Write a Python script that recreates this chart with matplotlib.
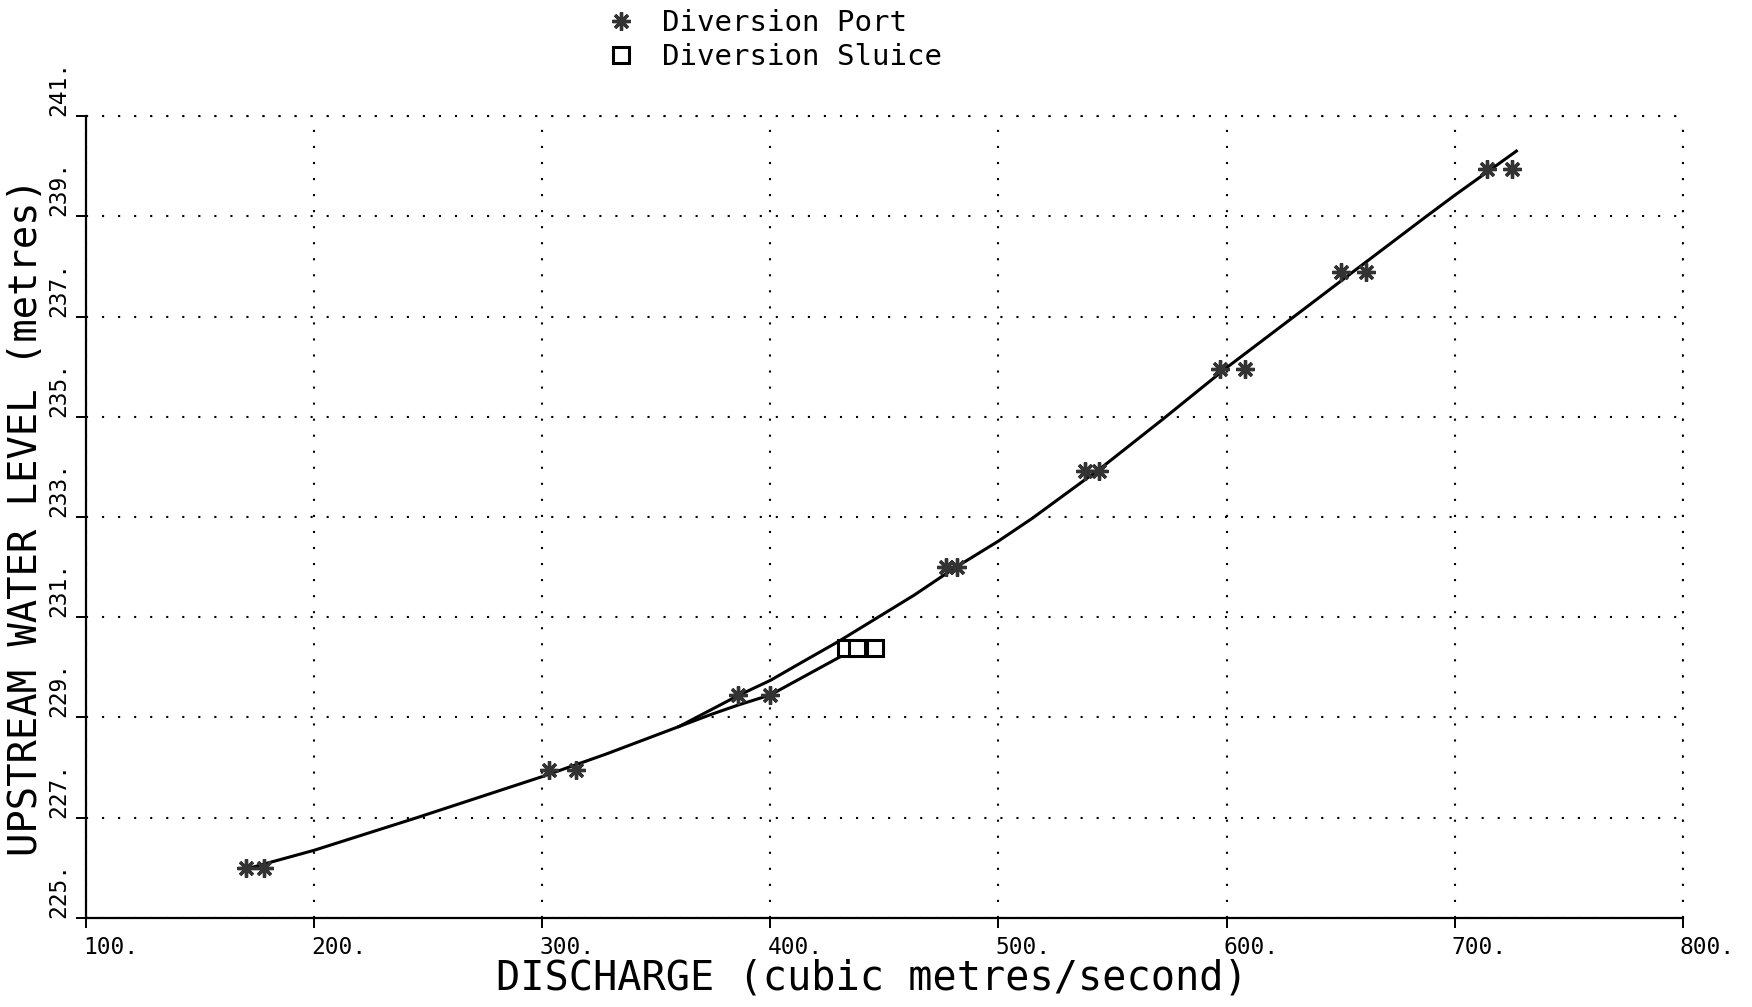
import matplotlib
matplotlib.use("Agg")
import matplotlib.pyplot as plt
from matplotlib.transforms import ScaledTranslation

# Measured points: discharge (m3/s) and upstream water level (m)
port_q = [170, 178, 303, 315, 386, 400, 477, 482, 538, 544, 597, 608, 650, 661, 714, 725]
port_h = [226.0, 226.0, 227.95, 227.95, 229.45, 229.45, 232.0, 232.0,
          233.92, 233.92, 235.96, 235.96, 237.88, 237.88, 239.94, 239.94]
sluice_q = [433, 438, 446]
sluice_h = [230.38, 230.38, 230.38]

# Rating curve for the diversion port
port_curve_q = [172, 200, 245, 300, 328, 360, 386, 400, 413, 430, 463, 480, 500, 515,
                545, 572, 600, 629, 660, 687, 700, 727]
port_curve_h = [226.0, 226.35, 227.0, 227.82, 228.27, 228.82, 229.44, 229.74, 230.08,
                230.52, 231.44, 231.96, 232.52, 232.98, 233.98, 234.95, 235.98, 236.98,
                238.05, 238.98, 239.42, 240.3]
# Branch to the diversion sluice
sluice_curve_q = [360, 374, 386, 400, 433]
sluice_curve_h = [228.82, 229.06, 229.25, 229.45, 230.27]

x_ticks = [100, 200, 300, 400, 500, 600, 700, 800]
y_ticks = [225, 227, 229, 231, 233, 235, 237, 239, 241]
x_tick_labels = ["100.", "200.", "300.", "400.", "500.", "600.", "700.", "800."]
y_tick_labels = ["225.", "227.", "229.", "231.", "233.", "235.", "237.", "239.", "241."]

MONO = "DejaVu Sans Mono"
plt.rcParams["font.family"] = [MONO, "DejaVu Sans"]

fig = plt.figure(figsize=(17.52, 10.07), dpi=100)
ax = fig.add_axes([0.049, 0.0884, 0.9116, 0.7964])

ax.set_xlim(100, 800)
ax.set_ylim(225, 241)

dot = (0, (1, 6.7))
ax.set_xticks(x_ticks)
ax.set_yticks(y_ticks)
ax.grid(True, color="black", linestyle=dot, linewidth=1.5)
ax.axhline(241, color="black", linestyle=dot, linewidth=1.5, clip_on=False)
ax.axvline(800, color="black", linestyle=dot, linewidth=1.5, clip_on=False)

for side in ("top", "right"):
    ax.spines[side].set_visible(False)
for side in ("left", "bottom"):
    ax.spines[side].set_linewidth(1.6)

ax.tick_params(direction="out", length=7, width=1.4, color="black")
ax.set_xticklabels(x_tick_labels, fontsize=16.5, family=MONO, ha="left")
ax.set_yticklabels(y_tick_labels, fontsize=16.5, family=MONO, rotation=90, va="bottom")
ax.tick_params(axis="y", pad=4)
ax.tick_params(axis="x", pad=6)
shift = ScaledTranslation(-3 / 100, 0, fig.dpi_scale_trans)
for lbl in ax.get_xticklabels():
    lbl.set_transform(lbl.get_transform() + shift)

ax.plot(port_curve_q, port_curve_h, color="black", linewidth=2.2, zorder=3,
        solid_joinstyle="round")
ax.plot(sluice_curve_q, sluice_curve_h, color="black", linewidth=2.2, zorder=3,
        solid_joinstyle="round")

port_pts, = ax.plot(port_q, port_h, linestyle="none", marker=(8, 2, 0), markersize=13,
                    markeredgewidth=2.4, color="#333333", zorder=4, clip_on=False)
sluice_pts, = ax.plot(sluice_q, sluice_h, linestyle="none", marker="s", markersize=11,
                      markerfacecolor="white", markeredgecolor="black", markeredgewidth=2.2,
                      zorder=4)

ax.set_xlabel("DISCHARGE (cubic metres/second)", fontsize=29, family=MONO, labelpad=2)
ax.xaxis.set_label_coords(0.492, -0.05, transform=None)
ax.xaxis.label.set_verticalalignment("top")
ax.set_ylabel("UPSTREAM WATER LEVEL (metres)", fontsize=28, family=MONO, labelpad=2)

fig.legend([port_pts, sluice_pts], ["Diversion Port", "Diversion Sluice"],
           loc="upper left", bbox_to_anchor=(0.346, 0.991), frameon=False,
           prop={"family": MONO, "size": 21}, handlelength=1.0, handletextpad=0.9,
           labelspacing=0.2, borderpad=0.0, borderaxespad=0.0)

fig.savefig("out.png", dpi=100, facecolor="white")
